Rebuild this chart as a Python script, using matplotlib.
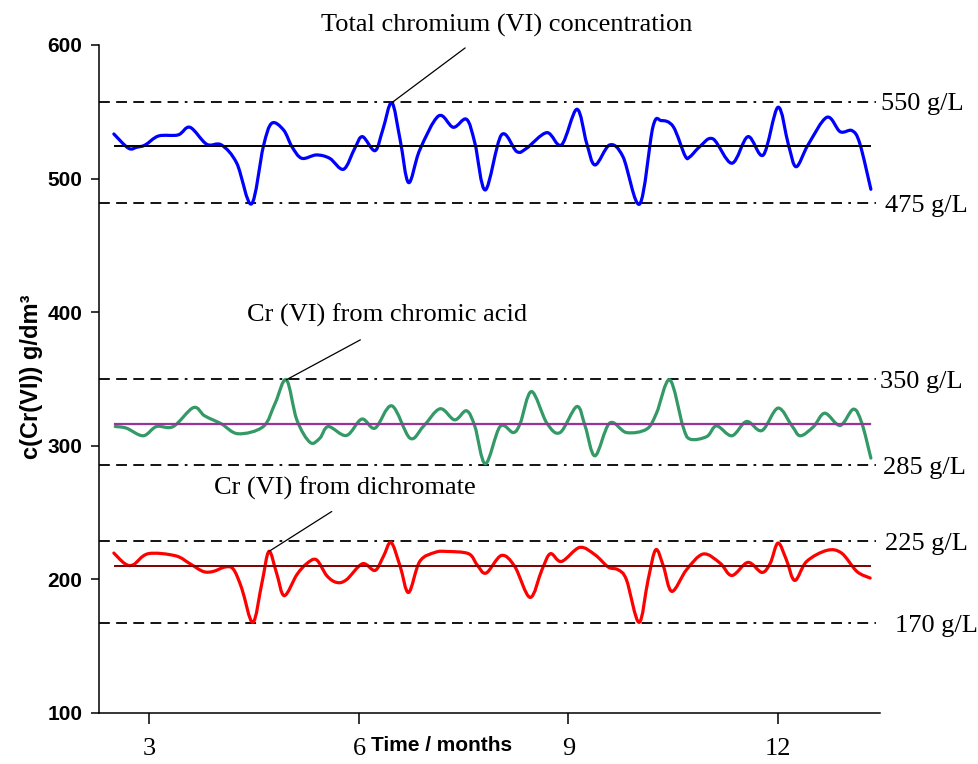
import matplotlib
matplotlib.use("Agg")
import matplotlib.pyplot as plt
from matplotlib import font_manager
from matplotlib.path import Path
from matplotlib.patches import PathPatch
import numpy as np

# ---------------- data ----------------
total_months = [2.49, 2.70, 2.82, 2.94, 3.13, 3.41, 3.58, 3.82, 4.03, 4.25, 4.46, 4.63, 4.75, 4.92,
                5.04, 5.18, 5.39, 5.58, 5.78, 5.94, 6.05, 6.23, 6.34, 6.47, 6.59, 6.71, 6.87, 7.14,
                7.35, 7.54, 7.66, 7.81, 8.04, 8.26, 8.40, 8.69, 8.90, 9.12, 9.26, 9.38, 9.59, 9.78,
                10.02, 10.21, 10.33, 10.50, 10.67, 10.74, 10.88, 11.07, 11.34, 11.57, 11.79, 12.00,
                12.15, 12.26, 12.43, 12.70, 12.89, 13.06, 13.17, 13.33]
total_conc = [533.4, 522.7, 523.5, 525.2, 531.9, 532.7, 538.4, 525.7, 525.2, 511.5, 481.0, 523.9,
              541.4, 536.4, 523.9, 515.2, 517.7, 515.2, 507.0, 522.7, 531.4, 520.9, 536.4, 556.8,
              528.9, 497.0, 521.4, 546.9, 538.4, 544.4, 526.5, 491.5, 532.7, 520.2, 522.7, 534.4,
              525.2, 551.9, 526.5, 510.2, 525.2, 516.4, 481.0, 538.9, 543.4, 538.9, 517.0, 516.4,
              523.9, 529.7, 511.5, 531.4, 517.7, 553.4, 525.2, 508.9, 525.2, 545.9, 535.1, 535.9,
              526.5, 492.0]

acid_months = [2.51, 2.67, 2.91, 3.10, 3.34, 3.63, 3.79, 4.03, 4.27, 4.63, 4.80, 4.96, 5.11, 5.30,
               5.44, 5.56, 5.82, 6.04, 6.23, 6.47, 6.73, 6.92, 7.16, 7.37, 7.54, 7.66, 7.81, 8.02,
               8.21, 8.31, 8.47, 8.69, 8.88, 9.12, 9.24, 9.38, 9.59, 9.83, 10.12, 10.26, 10.45,
               10.64, 10.74, 10.98, 11.12, 11.34, 11.55, 11.77, 12.00, 12.20, 12.32, 12.51, 12.67,
               12.89, 13.08, 13.20, 13.33]
acid_conc = [314.4, 313.2, 307.5, 314.4, 314.4, 328.6, 322.4, 316.4, 309.0, 314.4, 331.9, 349.4,
             319.4, 302.5, 305.7, 314.4, 307.7, 320.0, 313.2, 329.9, 305.7, 314.4, 327.7, 319.4,
             326.2, 314.4, 286.5, 314.4, 309.9, 317.0, 340.6, 317.0, 309.9, 329.4, 314.4, 292.5,
             317.0, 309.9, 312.5, 324.4, 349.4, 314.4, 305.0, 306.9, 314.9, 307.5, 318.2, 311.4,
             328.2, 314.9, 307.5, 314.4, 324.4, 315.2, 327.4, 317.0, 290.8]

dichromate_months = [2.49, 2.65, 2.77, 2.98, 3.37, 3.58, 3.77, 3.91, 4.08, 4.20, 4.32, 4.48, 4.61,
                     4.71, 4.82, 4.93, 5.11, 5.25, 5.39, 5.54, 5.68, 5.82, 6.05, 6.23, 6.35, 6.46,
                     6.59, 6.71, 6.87, 7.09, 7.26, 7.57, 7.69, 7.82, 8.04, 8.23, 8.45, 8.62, 8.74,
                     8.90, 9.16, 9.38, 9.57, 9.71, 9.83, 10.01, 10.14, 10.25, 10.36, 10.48, 10.69,
                     10.93, 11.17, 11.34, 11.57, 11.77, 11.89, 12.00, 12.12, 12.24, 12.41, 12.70,
                     12.91, 13.13, 13.32]
dichromate_conc = [219.7, 211.7, 211.0, 219.2, 217.7, 211.7, 205.9, 205.9, 209.2, 207.7, 193.5,
                   167.8, 197.3, 220.9, 204.7, 187.8, 203.5, 211.7, 214.7, 202.7, 197.7, 199.7,
                   211.7, 206.7, 217.2, 227.6, 209.7, 190.2, 213.4, 220.2, 220.9, 219.2, 211.0,
                   204.7, 217.9, 209.7, 186.5, 207.2, 219.2, 213.4, 223.9, 218.4, 209.2, 207.2,
                   199.7, 167.8, 199.7, 222.2, 209.7, 191.0, 207.2, 219.0, 212.2, 202.9, 212.7,
                   205.2, 212.2, 227.2, 214.7, 199.2, 213.4, 221.7, 219.7, 205.9, 201.0]

total_mean = 524.6
acid_mean = 316.0
dichromate_mean = 210.1

total_limits = [557.6, 481.7]
acid_limits = [350.1, 285.3]
dichromate_limits = [228.8, 167.0]
total_limit_labels = ["550 g/L", "475 g/L"]
acid_limit_labels = ["350 g/L", "285 g/L"]
dichromate_limit_labels = ["225 g/L", "170 g/L"]

x_ticks = [3, 6, 9, 12]
y_ticks = [100, 200, 300, 400, 500, 600]

title_total = "Total chromium (VI) concentration"
title_acid = "Cr (VI) from chromic acid"
title_dichromate = "Cr (VI) from dichromate"
x_label = "Time / months"
y_label = "c(Cr(VI)) g/dm\u00b3"

# ---------------- fonts ----------------
available = {f.name for f in font_manager.fontManager.ttflist}


def pick(*names):
    for n in names:
        if n in available:
            return n
    return "DejaVu Sans"


serif = pick("Liberation Serif", "DejaVu Serif")
sans = pick("Liberation Sans", "DejaVu Sans")
narrow = pick("Liberation Sans Narrow", sans)


def smoothed_line(ax, xs, ys, color, lw):
    """Draw the series as a smoothed (Catmull-Rom style) curve through its points,
    like a spreadsheet 'smoothed line' chart."""
    pts = np.column_stack([xs, ys]).astype(float)
    n = len(pts)
    verts = [pts[0]]
    codes = [Path.MOVETO]
    for i in range(n - 1):
        p0 = pts[i - 1] if i > 0 else pts[i]
        p1 = pts[i]
        p2 = pts[i + 1]
        p3 = pts[i + 2] if i + 2 < n else pts[i + 1]
        verts += [p1 + (p2 - p0) / 6.0, p2 - (p3 - p1) / 6.0, p2]
        codes += [Path.CURVE4] * 3
    patch = PathPatch(Path(verts, codes), facecolor="none", edgecolor=color,
                      lw=lw, joinstyle="round", capstyle="round", zorder=3)
    ax.add_patch(patch)


# ---------------- figure ----------------
fig = plt.figure(figsize=(9.79, 7.64), dpi=100)
ax = fig.add_axes([0.1011, 0.0668, 0.7978, 0.8743])

ref_x = [2.277, 13.40]
mean_x = [2.51, 13.32]
dash = (0, (6, 3.5, 6, 3.5, 6, 3.5, 6, 3.5, 6, 3.5, 1.5, 3.5))

for lims in (total_limits, acid_limits, dichromate_limits):
    for v in lims:
        ax.plot(ref_x, [v, v], color="black", lw=1.3, linestyle=dash, zorder=2)

smoothed_line(ax, total_months, total_conc, "#0000ff", 2.3)
smoothed_line(ax, acid_months, acid_conc, "#339966", 2.3)
smoothed_line(ax, dichromate_months, dichromate_conc, "#ff0000", 2.3)

ax.plot(mean_x, [total_mean] * 2, color="black", lw=1.4, zorder=4)
ax.plot(mean_x, [acid_mean] * 2, color="#993399", lw=1.6, zorder=4)
ax.plot(mean_x, [dichromate_mean] * 2, color="#800000", lw=1.4, zorder=4)

ax.set_xlim(2.277, 13.461)
ax.set_ylim(100, 600)

# limit labels on the right
label_x = [13.475, 13.53, 13.46, 13.50, 13.53, 13.675]
all_limits = total_limits + acid_limits + dichromate_limits
all_labels = total_limit_labels + acid_limit_labels + dichromate_limit_labels
for lx, v, t in zip(label_x, all_limits, all_labels):
    ax.annotate(t, xy=(lx, v), xytext=(0, -6.3), textcoords="offset points",
                ha="left", va="baseline", fontsize=19, family=serif,
                annotation_clip=False)

# series names with leader lines
i_tot = int(np.argmax(total_conc))
i_acid = int(np.argmax(acid_conc))
i_dich = 13
leaders = [
    ((7.52, 597.8), (total_months[i_tot], total_conc[i_tot])),
    ((6.02, 379.3), (acid_months[i_acid], acid_conc[i_acid])),
    ((5.61, 250.8), (dichromate_months[i_dich], dichromate_conc[i_dich])),
]
for (x0, y0), (x1, y1) in leaders:
    ax.annotate("", xy=(x1, y1), xytext=(x0, y0),
                arrowprops=dict(arrowstyle="-", color="black", lw=0.9,
                                shrinkA=0, shrinkB=0),
                annotation_clip=False)

ax.text(8.12, 609.7, title_total, ha="center", va="baseline", fontsize=19,
        family=serif, clip_on=False)
ax.text(6.397, 392.8, title_acid, ha="center", va="baseline", fontsize=19,
        family=serif)
ax.text(5.792, 263.3, title_dichromate, ha="center", va="baseline", fontsize=19,
        family=serif)

# axes styling
for s in ("top", "right"):
    ax.spines[s].set_visible(False)
for s in ("left", "bottom"):
    ax.spines[s].set_linewidth(1.1)

ax.set_xticks(x_ticks, labels=[str(t) for t in x_ticks], fontsize=19, family=serif)
ax.set_yticks(y_ticks, labels=[str(t) for t in y_ticks], fontsize=15, family=sans,
              fontweight="bold")
ax.tick_params(axis="x", direction="out", length=8, width=1.1, pad=10)
ax.tick_params(axis="y", direction="out", length=6, width=1.1, pad=6)

ax.set_xlabel(x_label, fontsize=17 if narrow != sans else 15, family=narrow,
              fontweight="bold", va="center")
ax.xaxis.set_label_coords(0.438, -0.049)
ax.set_ylabel(y_label, fontsize=17, family=sans, fontweight="bold", va="center")
ax.yaxis.set_label_coords(-0.087, 0.504)

fig.savefig("out.png", dpi=100)
